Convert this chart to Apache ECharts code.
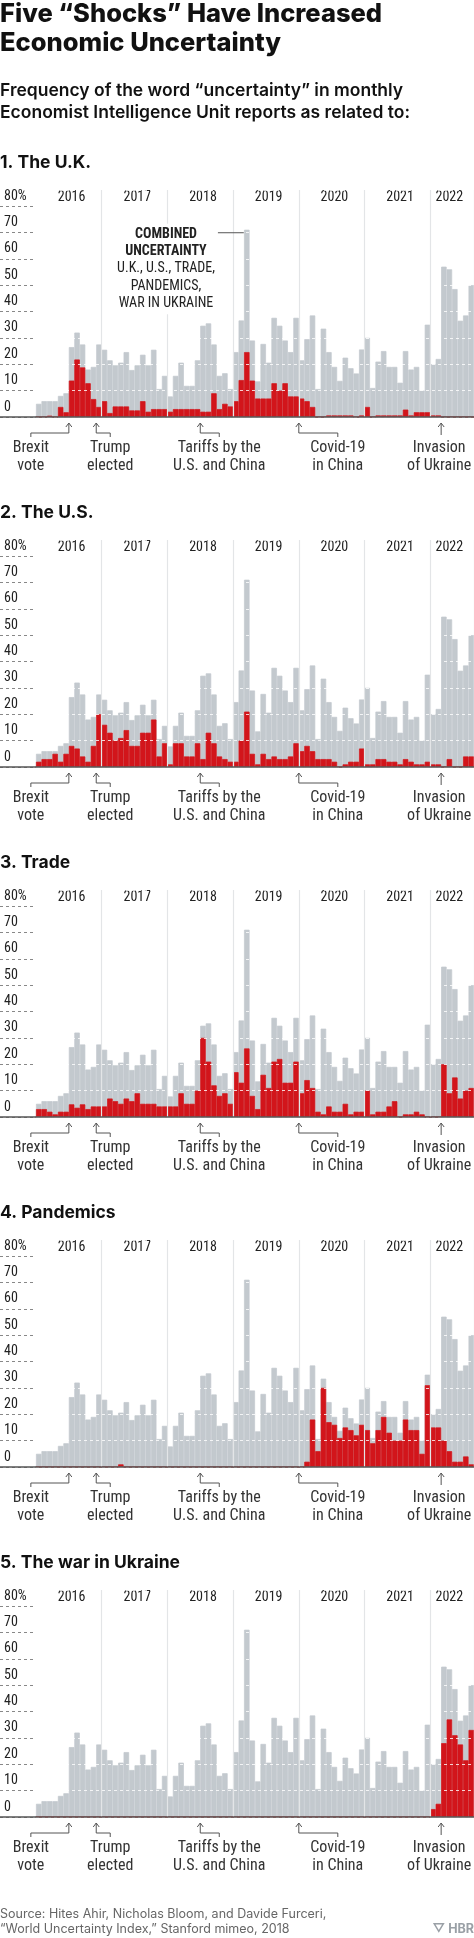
<!DOCTYPE html>
<html><head><meta charset="utf-8">
<script src="https://cdn.jsdelivr.net/npm/echarts@6/dist/echarts.min.js"></script>
<style>html,body{margin:0;padding:0;background:#fff}#c{width:474px;height:1938px}</style>
</head><body><div id="c"></div>
<script>
var years = ['2016','2017','2018','2019','2020','2021','2022'];
var months = [];
years.forEach(function(y){ for (var m=1;m<=12;m++){ if (y==='2022' && m>8) break; months.push(y+'-'+(m<10?'0':'')+m); } });
var yTicks = ['0','10','20','30','40','50','60','70','80%'];
var combined = [5,6,6,6,8,9,26.5,32,27.5,18,19,27.5,
 25.5,21.5,19.6,20.6,24.6,17.8,19.6,23.6,19.6,25.5,10.6,15.6,
 7.8,15.6,20.6,11.8,11.8,21.5,34.6,35.5,27.5,15.6,16.6,10.6,
 24.6,36.6,71,29,13.5,27.7,20.6,37.6,34.6,29,24.6,37.6,
 21.5,29.5,38.5,10.6,33.5,24.6,19,13.7,22.5,18.5,16.5,25.6,
 30,11,21,25,19,19,13,25,18,19,10,35,
 20,22,57,56,48.5,36.5,38.5,50];
var uk = [0,0,0.5,0,3.8,1.8,13.8,21.8,18.8,12.8,6.8,3.8,
 6,1.5,4,4,4,2.5,2.5,6,2,3,3,3,
 2,3,3,3,3,3,2,2,9,3,5,4,
 6,14,24.6,13.8,7,7,7,12.8,10,12.8,7.8,7.8,
 7,6,3.8,0,0,0.6,0.6,0.6,0.6,0.6,0,0.6,
 3.8,0,0.6,0.6,0.6,0.6,0.6,2.8,0.6,1.8,1.8,1.8,
 0.6,0.6,0,0,0,0,0,0];
var us = [2,3,3,5,2,5,8,7,4,2,8,20,
 16,13,10,11,14,8,8,13,13,18,4,9,
 1,9,9,4,4,9,3,13,9,4,3,2,
 2,10,21,5,1,5,3,4,3,3,4,9,
 6,8,6,3,3,3,2,0,1,2,2,7,
 1,1,3,3,2,2,1,3,2,1,1,2,
 1,1,0,3,0,0,4,4];
var trade = [3,3,2,1,2,2,4.8,3.5,4.8,3,4,4,
 4,7,6,5,7,6,9,5,5,5,4,4,
 4,4,9,5,5,10,30,21,12,8,9,5,
 17,13,26,8,3,16,11,21,22,13,13,21,
 9,14,11,2,1,4,2,2,5,1,2,2,
 10,1,2,2,4,6,0,1,1,2,1,0,
 0,0,20,9,15,7,10,11];
var pandemics = [0,0,0,0,0,0,0,0,0,0,0,0,
 0,0,0,1,0,0,0,0,0,0,0,0,
 0,0,0,0,0,0,0,0,0,0,0,0,
 0,0,0,0,0,0,0,0,0,0,0,0,
 0,2,18,6,30,17,16,11,15,14,12,16,
 14,9,14,19,13,10,10,18,14,14,5,31,
 15,15,10,6,2,2,4,1];
var ukraine = [0,0,0,0,0,0,0,0,0,0,0,0,
 0,0,0,0,0,0,0,0,0,0,0,0,
 0,0,0,0,0,0,0,0,0,0,0,0,
 0,0,0,0,0,0,0,0,0,0,0,0,
 0,0,0,0,0,0,0,0,0,0,0,0,
 0,0,0,0,0,0,0,0,0,0,0,0,
 3,5,28,37,31,27.5,21.5,33];
var panelTitles = ['1. The U.K.','2. The U.S.','3. Trade','4. Pandemics','5. The war in Ukraine'];
var panelData = [uk, us, trade, pandemics, ukraine];
var events = [
 {text:'Brexit\nvote', month:6, dx:-38},
 {text:'Trump\nelected', month:11, dx:14},
 {text:'Tariffs by the\nU.S. and China', month:30, dx:19},
 {text:'Covid-19\nin China', month:48, dx:39},
 {text:'Invasion\nof Ukraine', month:74, dx:0}
];

var GREY='#c3c9ce', RED='#d2151b';
var COND = '"Roboto Condensed","Liberation Sans Narrow","Roboto",sans-serif';
var chart = echarts.init(document.getElementById('c'));
var grids=[], xAxes=[], yAxes=[], series=[];
for (var p=0;p<5;p++){
  var o = 350*p;
  grids.push({left:0, width:36, top:206+o, height:211});
  grids.push({left:36, right:0, top:190+o, height:227});
  xAxes.push({gridIndex:2*p, type:'value', min:0, max:1, axisLine:{show:true,onZero:false,lineStyle:{color:'#555',width:1.5}}, axisTick:{show:false}, axisLabel:{show:false}, splitLine:{show:false}});
  xAxes.push({gridIndex:2*p+1, type:'category', data:months, position:'bottom', z:5,
    axisLine:{lineStyle:{color:'#555',width:1.5}}, axisTick:{show:false}, axisLabel:{show:false},
    splitLine:{show:true, interval:function(i){return i>0 && i%12===0;}, lineStyle:{color:'#e3e5e7',width:1.2}}});
  xAxes.push({gridIndex:2*p+1, type:'category', data:months, position:'top',
    axisLine:{show:false}, axisTick:{show:false}, splitLine:{show:false},
    axisLabel:{inside:true, margin:0, verticalAlign:'top', fontFamily:COND, fontSize:14, color:'#222',
      interval:function(i){ return (i<72 && i%12===6) || i===75; },
      formatter:function(v){ return v.slice(0,4); }}});
  yAxes.push({gridIndex:2*p, min:0, max:80, interval:10, axisLine:{show:false}, axisTick:{show:false},
    splitLine:{show:true, lineStyle:{type:[3,3], color:'#888', width:1}},
    axisLabel:{inside:true, margin:4, align:'left', verticalAlign:'bottom', padding:[0,0,3,0], fontFamily:COND, fontSize:14, color:'#222',
      formatter:function(v){ return yTicks[Math.round(v/10)]; }}});
  yAxes.push({gridIndex:2*p+1, min:0, max:80*227/211, interval:10, z:5, axisLine:{show:false}, axisTick:{show:false}, axisLabel:{show:false},
    splitLine:{show:true, lineStyle:{type:[3,3], color:'rgba(255,255,255,0.8)', width:1}}});
  series.push({type:'bar', xAxisIndex:3*p+1, yAxisIndex:2*p+1, data:combined, barGap:'-100%', barCategoryGap:0,
    itemStyle:{color:GREY, borderColor:GREY, borderWidth:0.7}, silent:true, animation:false});
  series.push({type:'bar', xAxisIndex:3*p+1, yAxisIndex:2*p+1, data:panelData[p], barGap:'-100%', barCategoryGap:0,
    itemStyle:{color:RED, borderColor:RED, borderWidth:0.7}, silent:true, animation:false});
}
chart.setOption({animation:false, grid:grids, xAxis:xAxes, yAxis:yAxes, series:series});

var g = [];
var TF = 'Inter,"Open Sans",sans-serif';
g.push({type:'text', left:0, top:0, z:100, style:{text:'Five “Shocks” Have Increased\nEconomic Uncertainty', font:'800 25.5px '+TF, fill:'#111', lineHeight:29}});
g.push({type:'text', left:0, top:80, z:100, style:{text:'Frequency of the word “uncertainty” in monthly\nEconomist Intelligence Unit reports as related to:', font:'600 17.5px '+TF, fill:'#111', lineHeight:22}});
for (var p=0;p<5;p++){
  var o=350*p;
  g.push({type:'text', left:0, top:154+o, z:100, style:{text:panelTitles[p], font:'700 17.5px '+TF, fill:'#111'}});
  var ctr0 = chart.convertToPixel({xAxisIndex:3*p+1, yAxisIndex:2*p+1}, [0,0]);
  var ctr1 = chart.convertToPixel({xAxisIndex:3*p+1, yAxisIndex:2*p+1}, [1,0]);
  var bw = ctr1[0]-ctr0[0], base = ctr0[1];
  events.forEach(function(e){
    var ax = ctr0[0] + (e.month-0.5)*bw;
    var lx = ax + e.dx;
    var pts = e.dx===0 ? [[ax,base+6],[ax,base+18]] : [[ax,base+6],[ax,base+16],[lx,base+16],[lx,base+20]];
    g.push({type:'polyline', z:100, shape:{points:pts}, style:{stroke:'#555', lineWidth:1, fill:null}});
    g.push({type:'polyline', z:100, shape:{points:[[ax-3,base+10],[ax,base+6],[ax+3,base+10]]}, style:{stroke:'#555', lineWidth:1, fill:null}});
    g.push({type:'text', z:100, x:lx + (e.dx===0?-2:0), y:base+22, style:{text:e.text, font:'16px '+COND, fill:'#333', align:'center', verticalAlign:'top', lineHeight:18}});
  });
  if (p===0){
    var pk = chart.convertToPixel({xAxisIndex:1, yAxisIndex:1}, [38, combined[38]]);
    g.push({type:'line', z:100, shape:{x1:208, y1:pk[1]+3, x2:pk[0]-3, y2:pk[1]+3}, style:{stroke:'#555', lineWidth:1}});
    g.push({type:'text', z:100, x:166, y:pk[1]-6, style:{text:'COMBINED\nUNCERTAINTY\nU.K., U.S., TRADE,\nPANDEMICS,\nWAR IN UKRAINE',
      font:'14px '+COND, fill:'#222', align:'center', verticalAlign:'top', lineHeight:17.3, backgroundColor:'#fff', padding:[2,3,2,3],
      rich:{b:{fontWeight:700, fontSize:14, fontFamily:COND, lineHeight:17.3}}}});
  }
}
g.push({type:'text', left:0, top:1907, z:100, style:{text:'Source: Hites Ahir, Nicholas Bloom, and Davide Furceri,\n“World Uncertainty Index,” Stanford mimeo, 2018', font:'12.5px '+TF, fill:'#666', lineHeight:15}});
g.push({type:'text', right:0, top:1923, z:100, style:{text:'▽ HBR', font:'700 12.5px '+TF, fill:'#9aa0a6'}});
chart.setOption({graphic:g});
// bold the first two lines of the combined label
chart.setOption({graphic:g.map(function(el){
  if (el.style && typeof el.style.text==='string' && el.style.text.indexOf('COMBINED')===0){
    el.style.text='{b|COMBINED}\n{b|UNCERTAINTY}\nU.K., U.S., TRADE,\nPANDEMICS,\nWAR IN UKRAINE';
  }
  return el;
})});
</script></body></html>
